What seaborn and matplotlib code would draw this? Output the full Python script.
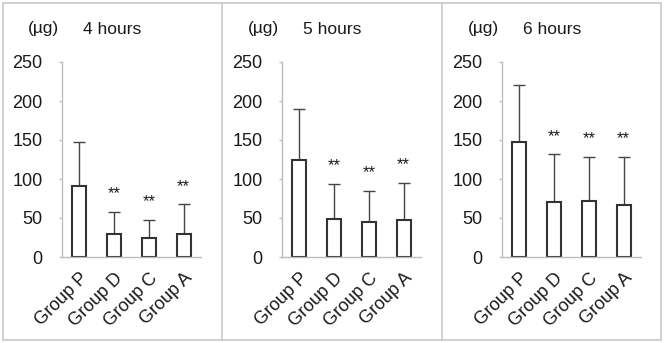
import matplotlib
matplotlib.use("Agg")
import matplotlib.pyplot as plt
import seaborn as sns
import pandas as pd
from matplotlib.patches import Rectangle
from matplotlib.lines import Line2D

# Data (mean and upper SD, in µg)
groups = ["Group P", "Group D", "Group C", "Group A"]
hours = ["4 hours", "5 hours", "6 hours"]
means_4h = [91, 29.5, 25, 30]
sd_4h = [56, 28, 22.5, 37.5]
means_5h = [124, 49, 45, 47]
sd_5h = [66, 45, 40, 48]
means_6h = [148, 71, 72, 67]
sd_6h = [73, 60.5, 56.5, 61.5]
signif = ["", "**", "**", "**"]

sns.set_theme(style="white")
plt.rcParams["font.family"] = ["Liberation Sans", "DejaVu Sans"]

W, H = 664, 343
fig = plt.figure(figsize=(W / 100, H / 100), dpi=100)

panels = [(means_4h, sd_4h), (means_5h, sd_5h), (means_6h, sd_6h)]
offsets = [0, 220, 440]
axis_grey = "#bdbdbd"
txt = "#1a1a1a"

for (means, sds), label, off in zip(panels, hours, offsets):
    left = (off + 62) / W
    ax = fig.add_axes([left, (H - 257) / H, 139 / W, 195 / H])
    df = pd.DataFrame({"group": groups, "mean": means})
    sns.barplot(data=df, x="group", y="mean", ax=ax, color="white",
                edgecolor="#333333", linewidth=1.5, width=0.4, errorbar=None,
                saturation=1)
    ax.errorbar(range(len(groups)), means, yerr=[[0] * len(sds), sds],
                fmt="none", ecolor="#444444", elinewidth=1.0, capsize=4,
                capthick=1.0, zorder=0.5)
    for i, (m, s, mark) in enumerate(zip(means, sds, signif)):
        if mark:
            ax.annotate(mark, xy=(i, m + s), xytext=(0, 13),
                        textcoords="offset points", ha="center", va="center",
                        fontsize=12, color=txt)
    ax.set_ylim(0, 250)
    ax.set_xlim(-0.5, 3.5)
    ax.set_yticks([0, 50, 100, 150, 200, 250])
    ax.set_xlabel("")
    ax.set_ylabel("")
    for side in ["top", "right"]:
        ax.spines[side].set_visible(False)
    for side in ["left", "bottom"]:
        ax.spines[side].set_color(axis_grey)
        ax.spines[side].set_linewidth(1.0)
    ax.tick_params(axis="y", left=True, length=2.5, width=1, color=axis_grey,
                   labelsize=13, labelcolor=txt, pad=11.5)
    ax.tick_params(axis="x", bottom=False, labelsize=13, labelcolor=txt, pad=3)
    plt.setp(ax.get_xticklabels(), rotation=45, ha="right", va="top",
             rotation_mode="anchor")
    fig.text((off + 28) / W, 1 - 29 / H, "(µg)", fontsize=12.5, color=txt,
             ha="left", va="center")
    fig.text((off + 83) / W, 1 - 29 / H, label, fontsize=12.5, color=txt,
             ha="left", va="center")

# outer frame and panel dividers
border = "#c8c8c8"
fig.add_artist(Rectangle((3 / W, 3 / H), (W - 6) / W, (H - 6) / H,
                         transform=fig.transFigure, fill=False,
                         edgecolor=border, linewidth=1.2))
for xd in [222, 442]:
    fig.add_artist(Line2D([xd / W, xd / W], [3 / H, 1 - 3 / H],
                          transform=fig.transFigure, color=border, linewidth=1.2))

fig.savefig("out.png", dpi=100)
